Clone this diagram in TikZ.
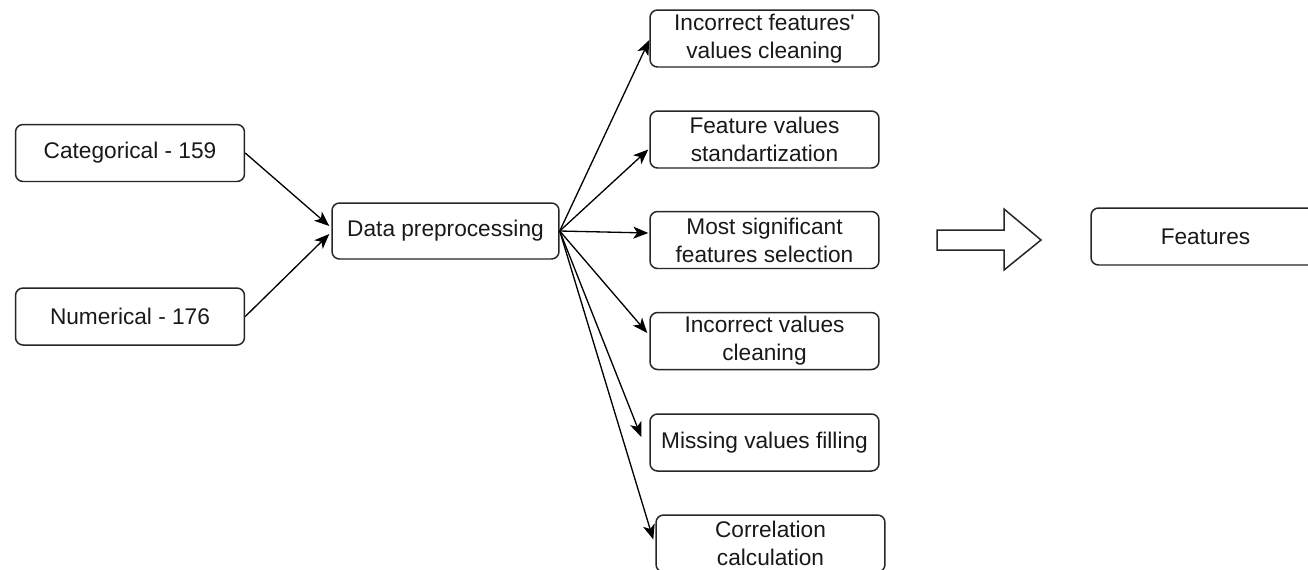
\documentclass[tikz,border=0pt]{standalone}
\usepackage{fontspec}
\setmainfont{Liberation Sans}
\usetikzlibrary{arrows.meta,calc}
\begin{document}
\begin{tikzpicture}[x=0.02cm,y=-0.02cm,
  box/.style={draw=black!85, line width=0.85pt, rounded corners=0.15cm, fill=white,
    minimum width=4.58cm, minimum height=1.14cm, inner sep=0pt, align=center,
    font=\fontsize{12.9pt}{15.9pt}\selectfont, text=black!90},
  conn/.style={draw=black, line width=0.75pt, -{Stealth[length=0.3cm,width=0.24cm,inset=0.08cm]}},
  bigarrow/.style={draw=black!85, line width=0.85pt, fill=white, line join=miter}]
\useasboundingbox (0,0) rectangle (1308,569);
\fill[white] (0,0) rectangle (1308,569);

\node[box] (cat) at (130,153) {Categorical - 159};
\node[box] (num) at (130,316.5) {Numerical - 176};
\node[box, minimum width=4.54cm, minimum height=1.12cm] (dp) at (445.5,231) {Data preprocessing};

\node[box] (b1) at (764.5,38.5) {Incorrect features\textquotesingle\\values cleaning};
\node[box] (b2) at (764.5,139.5) {Feature values\\standartization};
\node[box] (b3) at (764.5,240) {Most significant\\features selection};
\node[box] (b4) at (764.5,341) {Incorrect values\\cleaning};
\node[box] (b5) at (764.5,442.5) {Missing values filling};
\node[box] (b6) at (770.5,543.5) {Correlation\\calculation};

\node[box] (feat) at (1205.5,236.5) {Features};

\draw[bigarrow] (937,230) -- (1004,230) -- (1004,209) -- (1041,240) -- (1004,270) -- (1004,250) -- (937,250) -- cycle;

\draw[conn] (cat.east) -- ($(dp.west)+(-2,-5)$);
\draw[conn] (num.east) -- ($(dp.west)+(-2,3)$);

\draw[conn] (dp.east) -- ($(b1.west)+(0,1.5)$);
\draw[conn] (dp.east) -- ($(b2.west)+(-1,10)$);
\draw[conn] (dp.east) -- ($(b3.west)+(-1,-7)$);
\draw[conn] (dp.east) -- ($(b4.west)+(-2,-8)$);
\draw[conn] (dp.east) -- ($(b5.west)+(-8,-5.5)$);
\draw[conn] (dp.east) -- ($(b6.west)+(-2,-4)$);
\end{tikzpicture}
\end{document}
